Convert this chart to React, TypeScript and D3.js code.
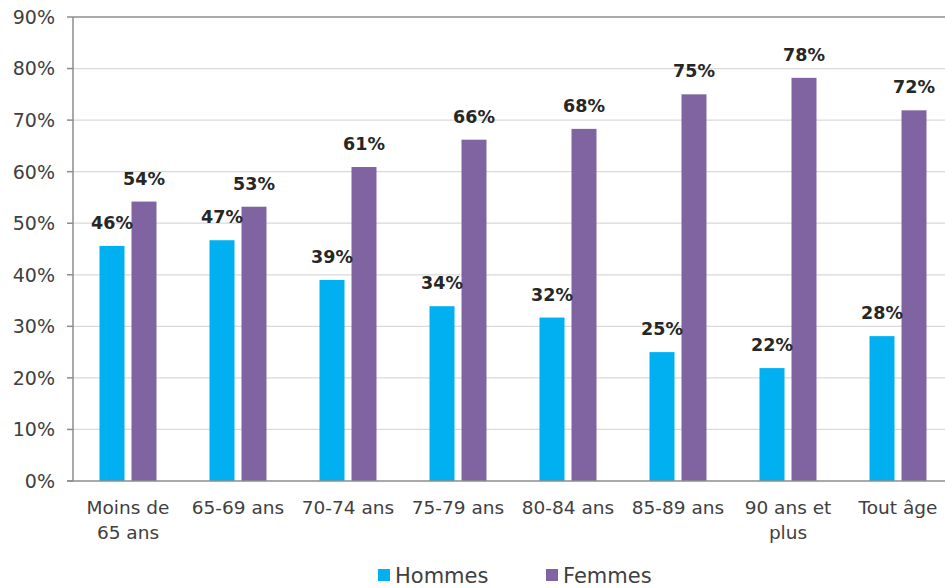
import React, { useEffect, useRef } from "react";
import * as d3 from "d3";

const categories = [
  ["Moins de", "65 ans"],
  ["65-69 ans"],
  ["70-74 ans"],
  ["75-79 ans"],
  ["80-84 ans"],
  ["85-89 ans"],
  ["90 ans et", "plus"],
  ["Tout âge"],
];
const hommes = [45.6, 46.7, 39.0, 33.9, 31.7, 25.0, 21.9, 28.1];
const femmes = [54.2, 53.2, 60.9, 66.2, 68.3, 75.0, 78.2, 71.9];
const hommesLabels = ["46%", "47%", "39%", "34%", "32%", "25%", "22%", "28%"];
const femmesLabels = ["54%", "53%", "61%", "66%", "68%", "75%", "78%", "72%"];
const yTicks = [0, 10, 20, 30, 40, 50, 60, 70, 80, 90];
const seriesNames = ["Hommes", "Femmes"];

const W = 945;
const H = 588;
const FONT = "'DejaVu Sans', Verdana, sans-serif";
const BLUE = "#00b0f0";
const PURPLE = "#8064a2";

const App = () => {
  const ref = useRef<SVGSVGElement>(null);

  useEffect(() => {
    if (!ref.current) return;
    const svg = d3.select(ref.current);
    svg.selectAll("*").remove();

    const left = 73, top = 17, bottom = 481, right = 953;
    const x = d3.scaleBand<number>().domain(d3.range(categories.length)).range([left, right]);
    const y = d3.scaleLinear().domain([0, 90]).range([bottom, top]);

    // gridlines
    svg.append("g").selectAll("line").data(yTicks.filter((t) => t > 0)).enter()
      .append("line")
      .attr("x1", left).attr("x2", W)
      .attr("y1", (d) => y(d)).attr("y2", (d) => y(d))
      .attr("stroke", (d) => (d === 90 ? "#8c8c8c" : "#d9d9d9"))
      .attr("stroke-width", (d) => (d === 90 ? 1.5 : 1.2));

    // y axis
    svg.append("line").attr("x1", left).attr("x2", left).attr("y1", top).attr("y2", bottom)
      .attr("stroke", "#8c8c8c").attr("stroke-width", 1.5);
    svg.append("g").selectAll("line").data(yTicks).enter().append("line")
      .attr("x1", left - 6).attr("x2", left)
      .attr("y1", (d) => y(d)).attr("y2", (d) => y(d))
      .attr("stroke", "#8c8c8c").attr("stroke-width", 1.5);
    svg.append("g").selectAll("text").data(yTicks).enter().append("text")
      .attr("x", 55).attr("y", (d) => y(d)).attr("dy", "0.36em")
      .attr("text-anchor", "end")
      .attr("font-family", FONT).attr("font-size", 19).attr("fill", "#404040")
      .text((d) => d + "%");

    const bw = 25;
    const gap = 3.5;
    const g = svg.append("g");
    const cx = (i: number) => (x(i) as number) + x.bandwidth() / 2;

    g.selectAll("rect.h").data(hommes).enter().append("rect")
      .attr("x", (_, i) => cx(i) - gap - bw).attr("width", bw)
      .attr("y", (d) => y(d)).attr("height", (d) => bottom - y(d))
      .attr("fill", BLUE);
    g.selectAll("rect.f").data(femmes).enter().append("rect")
      .attr("x", (_, i) => cx(i) + gap).attr("width", bw)
      .attr("y", (d) => y(d)).attr("height", (d) => bottom - y(d))
      .attr("fill", PURPLE);

    // x axis baseline
    svg.append("line").attr("x1", left - 6).attr("x2", W).attr("y1", bottom).attr("y2", bottom)
      .attr("stroke", "#8c8c8c").attr("stroke-width", 1.5);

    // value labels
    g.selectAll("text.h").data(hommes).enter().append("text")
      .attr("x", (_, i) => cx(i) - gap - bw / 2).attr("y", (d) => y(d) - 17)
      .attr("text-anchor", "middle").attr("font-family", FONT)
      .attr("font-size", 17.5).attr("font-weight", "bold").attr("fill", "#262626")
      .text((_, i) => hommesLabels[i]);
    g.selectAll("text.f").data(femmes).enter().append("text")
      .attr("x", (_, i) => cx(i) + gap + bw / 2).attr("y", (d) => y(d) - 17)
      .attr("text-anchor", "middle").attr("font-family", FONT)
      .attr("font-size", 17.5).attr("font-weight", "bold").attr("fill", "#262626")
      .text((_, i) => femmesLabels[i]);

    // category labels
    const cat = svg.append("g").selectAll("text").data(categories).enter().append("text")
      .attr("text-anchor", "middle").attr("font-family", FONT)
      .attr("font-size", 18.5).attr("fill", "#404040");
    cat.each(function (lines, i) {
      const t = d3.select(this);
      lines.forEach((line, k) => {
        t.append("tspan").attr("x", cx(i)).attr("y", 514 + k * 25).text(line);
      });
    });

    // legend
    const legend = [
      { name: seriesNames[0], color: BLUE, x: 378 },
      { name: seriesNames[1], color: PURPLE, x: 546 },
    ];
    const lg = svg.append("g").selectAll("g").data(legend).enter().append("g");
    lg.append("rect").attr("x", (d) => d.x).attr("y", 569).attr("width", 12).attr("height", 12)
      .attr("fill", (d) => d.color);
    lg.append("text").attr("x", (d) => d.x + 17).attr("y", 583)
      .attr("font-family", FONT).attr("font-size", 21).attr("fill", "#404040")
      .text((d) => d.name);
  }, []);

  return (
    <svg ref={ref} width={W} height={H}
      style={{ position: "absolute", left: 0, top: 0, background: "#fff" }} />
  );
};

export default App;
